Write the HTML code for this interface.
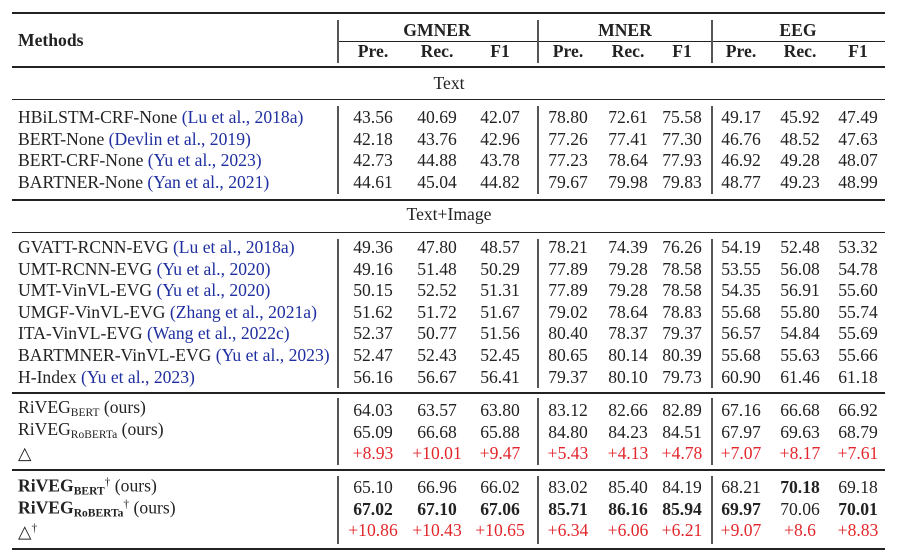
<!DOCTYPE html>
<html><head><meta charset="utf-8"><style>
body{margin:0;width:897px;height:557px;background:#fff;position:relative;overflow:hidden;font-family:"Liberation Serif",serif;font-size:17.6px;color:#222}
.t{position:absolute;white-space:nowrap;line-height:20px;transform:translateY(-50%)}
.c{transform:translate(-50%,-50%)}
.h{position:absolute;background:#222}
.v{position:absolute;background:#555;width:1.5px}
.b{font-weight:bold}
.cite{color:#1f2fa0}
.red{color:#e3262b}
sub{font-size:11.5px;vertical-align:-3px}
sup{font-size:11.5px;vertical-align:6px}
</style></head><body>
<script>
const colX=[373,437,500,568,628,682,741,800,858];
const textNames=[['HBiLSTM-CRF-None ','(Lu et al., 2018a)'],['BERT-None ','(Devlin et al., 2019)'],['BERT-CRF-None ','(Yu et al., 2023)'],['BARTNER-None ','(Yan et al., 2021)']];
const textVals=[[43.56,40.69,42.07,78.80,72.61,75.58,49.17,45.92,47.49],[42.18,43.76,42.96,77.26,77.41,77.30,46.76,48.52,47.63],[42.73,44.88,43.78,77.23,78.64,77.93,46.92,49.28,48.07],[44.61,45.04,44.82,79.67,79.98,79.83,48.77,49.23,48.99]];
const tiNames=[['GVATT-RCNN-EVG ','(Lu et al., 2018a)'],['UMT-RCNN-EVG ','(Yu et al., 2020)'],['UMT-VinVL-EVG ','(Yu et al., 2020)'],['UMGF-VinVL-EVG ','(Zhang et al., 2021a)'],['ITA-VinVL-EVG ','(Wang et al., 2022c)'],['BARTMNER-VinVL-EVG ','(Yu et al., 2023)'],['H-Index ','(Yu et al., 2023)']];
const tiVals=[[49.36,47.80,48.57,78.21,74.39,76.26,54.19,52.48,53.32],[49.16,51.48,50.29,77.89,79.28,78.58,53.55,56.08,54.78],[50.15,52.52,51.31,77.89,79.28,78.58,54.35,56.91,55.60],[51.62,51.72,51.67,79.02,78.64,78.83,55.68,55.80,55.74],[52.37,50.77,51.56,80.40,78.37,79.37,56.57,54.84,55.69],[52.47,52.43,52.45,80.65,80.14,80.39,55.68,55.63,55.66],[56.16,56.67,56.41,79.37,80.10,79.73,60.90,61.46,61.18]];
const r1Names=['RiVEG<sub>BERT</sub> (ours)','RiVEG<sub>RoBERTa</sub> (ours)','△'];
const r1Vals=[['64.03','63.57','63.80','83.12','82.66','82.89','67.16','66.68','66.92'],['65.09','66.68','65.88','84.80','84.23','84.51','67.97','69.63','68.79'],['+8.93','+10.01','+9.47','+5.43','+4.13','+4.78','+7.07','+8.17','+7.61']];
const r2Names=['<b>RiVEG<sub>BERT</sub></b><sup>†</sup> (ours)','<b>RiVEG<sub>RoBERTa</sub></b><sup>†</sup> (ours)','△<sup>†</sup>'];
const r2Vals=[['65.10','66.96','66.02','83.02','85.40','84.19','68.21','70.18','69.18'],['67.02','67.10','67.06','85.71','86.16','85.94','69.97','70.06','70.01'],['+10.86','+10.43','+10.65','+6.34','+6.06','+6.21','+9.07','+8.6','+8.83']];
const r2Bold=[[0,0,0,0,0,0,0,1,0],[1,1,1,1,1,1,1,0,1],[0,0,0,0,0,0,0,0,0]];
function el(cls,html,x,y,name){const d=document.createElement('div');d.className=cls;d.innerHTML=html;d.style.left=x+'px';d.style.top=y+'px';


document.body.appendChild(d);return d;}
function hr(y,x1,x2,h,name){const d=document.createElement('div');d.className='h';d.style.left=x1+'px';d.style.width=(x2-x1)+'px';d.style.top=y+'px';d.style.height=h+'px';


document.body.appendChild(d);}
function vr(x,y1,y2){const d=document.createElement('div');d.className='v';d.style.left=x+'px';d.style.top=y1+'px';d.style.height=(y2-y1)+'px';


document.body.appendChild(d);}
hr(12,12,885,2,'top-rule');hr(41,337,885,1.2,'header-cmidrule');hr(66,12,885,1.5,'header-rule');
hr(99,12,885,1.2,'section-rule');hr(199,12,885,1.5,'section-rule');hr(232,12,885,1.2,'section-rule');
hr(392,12,885,1.5,'section-rule');hr(469,12,885,1.5,'section-rule');hr(548,12,885,2,'bottom-rule');
[[20,63],[106,194],[239,388],[398,465],[476,544]].forEach(([a,b])=>{vr(337,a,b);vr(537,a,b);vr(711,a,b);});
el('t b','Methods',18,40,'methods-header');
el('t c b','GMNER',437,30,'gmner-header');el('t c b','MNER',625,30,'mner-header');el('t c b','EEG',798,30,'eeg-header');
['Pre.','Rec.','F1','Pre.','Rec.','F1','Pre.','Rec.','F1'].forEach((s,i)=>el('t c b',s,colX[i],51,'metric-header'));
el('t c','Text',449,83,'text-section-label');el('t c','Text+Image',449,214,'text-image-section-label');
function rows(names,vals,y0,cited,cls,bold){names.forEach((n,r)=>{const y=y0+r*21.6;
el('t',cited?n[0]+'<span class="cite">'+n[1]+'</span>':n,18,y,'method-name');
vals[r].forEach((v,i)=>{const s=typeof v==='number'?v.toFixed(2):v;let c='t c'+(cls&&cls(r)?' red':'')+(bold&&bold[r][i]?' b':'');el(c,s,colX[i],y,'score-cell');});});}
rows(textNames,textVals,117,true);
rows(tiNames,tiVals,247,true);
rows(r1Names,r1Vals,410,false,r=>r===2);
rows(r2Names,r2Vals,487,false,r=>r===2,r2Bold);
</script>
</body></html>
